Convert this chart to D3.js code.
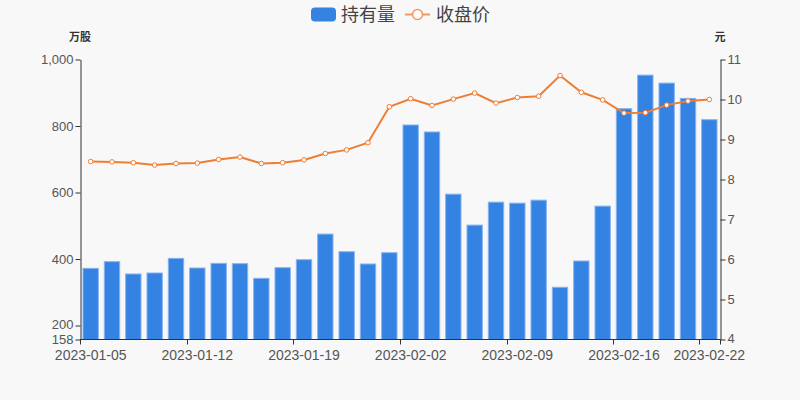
<!DOCTYPE html>
<html>
<head>
<meta charset="utf-8">
<script src="https://cdn.jsdelivr.net/npm/d3@7/dist/d3.min.js"></script>
<style>
  body { margin: 0; background: #f8f8f8; }
  svg { display: block; font-family: "Liberation Sans", "Noto Sans CJK SC", sans-serif; }
</style>
</head>
<body>
<script>
// data
const dates = ['2023-01-05', '2023-01-06', '2023-01-09', '2023-01-10', '2023-01-11', '2023-01-12',
    '2023-01-13', '2023-01-16', '2023-01-17', '2023-01-18', '2023-01-19', '2023-01-20',
    '2023-01-30', '2023-01-31', '2023-02-01', '2023-02-02', '2023-02-03', '2023-02-06',
    '2023-02-07', '2023-02-08', '2023-02-09', '2023-02-10', '2023-02-13', '2023-02-14',
    '2023-02-15', '2023-02-16', '2023-02-17', '2023-02-20', '2023-02-21', '2023-02-22'];
const holdings = [372, 392, 355, 358, 402, 373, 387, 386, 342, 374, 398, 475, 422, 385, 419,
    803, 782, 595, 502, 571, 568, 577, 315, 394, 559, 852, 953, 929, 883, 819];
const closePrice = [8.45, 8.44, 8.42, 8.36, 8.40, 8.41, 8.50, 8.56, 8.40, 8.42, 8.49, 8.65, 8.74, 8.92, 9.82,
    10.02, 9.85, 10.01, 10.16, 9.91, 10.05, 10.08, 10.60, 10.18, 9.99, 9.66, 9.67, 9.86, 9.96, 10.00];
const leftTicks = [158, 200, 400, 600, 800, 1000];
const rightTicks = [4, 5, 6, 7, 8, 9, 10, 11];
const labelIdx = [0, 5, 10, 15, 20, 25, 29];

const width = 800, height = 400;
const margin = { top: 59.5, right: 80, bottom: 60.5, left: 80 };

const svg = d3.select('body').append('svg')
    .attr('width', width)
    .attr('height', height);

svg.append('rect').attr('width', width).attr('height', height).attr('fill', '#f8f8f8');

const x = d3.scaleBand()
    .domain(dates)
    .range([margin.left, width - margin.right])
    .paddingInner(0.28)
    .paddingOuter(0.14);

const yLeft = d3.scaleLinear()
    .domain([158, 1000])
    .range([height - margin.bottom, margin.top]);

const yRight = d3.scaleLinear()
    .domain([4, 11])
    .range([height - margin.bottom, margin.top]);

// bars
svg.selectAll('.bar')
    .data(holdings)
    .enter()
    .append('rect')
    .attr('class', 'bar')
    .attr('x', (d, i) => x(dates[i]))
    .attr('y', d => yLeft(d))
    .attr('width', x.bandwidth())
    .attr('height', d => yLeft(158) - yLeft(d))
    .attr('fill', '#3482e2')
    .attr('stroke', '#86b3ef')
    .attr('stroke-width', 1);

// line
const center = i => x(dates[i]) + x.bandwidth() / 2;
const line = d3.line()
    .x((d, i) => center(i))
    .y(d => yRight(d));

svg.append('path')
    .datum(closePrice)
    .attr('d', line)
    .attr('fill', 'none')
    .attr('stroke', '#ef7d34')
    .attr('stroke-width', 2);

svg.selectAll('.pt')
    .data(closePrice)
    .enter()
    .append('circle')
    .attr('class', 'pt')
    .attr('cx', (d, i) => center(i))
    .attr('cy', d => yRight(d))
    .attr('r', 2.3)
    .attr('fill', '#fff')
    .attr('stroke', '#ef7d34')
    .attr('stroke-width', 1);

// left axis
const axisLeft = d3.axisLeft(yLeft)
    .tickValues(leftTicks)
    .tickFormat(d3.format(','))
    .tickSize(5)
    .tickSizeOuter(0);

const gl = svg.append('g')
    .attr('transform', `translate(${margin.left + 0.5},0)`)
    .call(axisLeft);

// right axis
const axisRight = d3.axisRight(yRight)
    .tickValues(rightTicks)
    .tickFormat(d3.format('d'))
    .tickSize(5)
    .tickSizeOuter(0);

const gr = svg.append('g')
    .attr('transform', `translate(${width - margin.right + 0.5},0)`)
    .call(axisRight);

// bottom axis
const gb = svg.append('g')
    .attr('transform', `translate(0,${height - margin.bottom})`);

gb.append('line')
    .attr('x1', margin.left)
    .attr('x2', width - margin.right + 0.5)
    .attr('stroke', '#333');

const tickPos = labelIdx.map(i => x(dates[i]) - x.step() * x.paddingInner() / 2).concat([width - margin.right]);
gb.selectAll('.xtick')
    .data(tickPos)
    .enter()
    .append('line')
    .attr('x1', d => Math.round(d) + 0.5)
    .attr('x2', d => Math.round(d) + 0.5)
    .attr('y1', 0)
    .attr('y2', 5)
    .attr('stroke', '#333');

gb.selectAll('.xlabel')
    .data(labelIdx)
    .enter()
    .append('text')
    .attr('x', i => center(i))
    .attr('y', 20)
    .attr('text-anchor', 'middle')
    .attr('fill', '#555')
    .attr('font-size', 14)
    .text(i => dates[i]);

[gl, gr].forEach(g => {
    g.select('.domain').attr('stroke', '#333');
    g.selectAll('.tick line').attr('stroke', '#333');
    g.selectAll('.tick text').attr('fill', '#555').attr('font-size', 13)
        .attr('font-family', '"Liberation Sans", sans-serif');
});
gl.selectAll('.tick text').attr('x', -7);
gr.selectAll('.tick text').attr('x', 7);
// keep the lowest tick labels clear of their neighbours
gl.selectAll('.tick text').filter(d => d === 158).attr('dy', '0.3em');
gl.selectAll('.tick text').filter(d => d === 200).attr('dy', '0.2em');
gr.selectAll('.tick text').filter(d => d === 4).attr('dy', '0.2em');

// axis names
svg.append('text')
    .attr('x', 80)
    .attr('y', 41)
    .attr('text-anchor', 'middle')
    .attr('font-size', 11)
    .attr('font-weight', 'bold')
    .attr('fill', '#333')
    .text('万股');

svg.append('text')
    .attr('x', 720)
    .attr('y', 41)
    .attr('text-anchor', 'middle')
    .attr('font-size', 11)
    .attr('font-weight', 'bold')
    .attr('fill', '#333')
    .text('元');

// legend
const legend = svg.append('g').attr('id', 'legend');
legend.append('rect')
    .attr('x', 311)
    .attr('y', 7.5)
    .attr('width', 25)
    .attr('height', 14)
    .attr('rx', 4)
    .attr('fill', '#3482e2');
legend.append('text')
    .attr('x', 341)
    .attr('y', 21)
    .attr('font-size', 18)
    .attr('fill', '#444')
    .text('持有量');
legend.append('line')
    .attr('x1', 405)
    .attr('x2', 430)
    .attr('y1', 14.5)
    .attr('y2', 14.5)
    .attr('stroke', '#f19a5f')
    .attr('stroke-width', 2);
legend.append('circle')
    .attr('cx', 417.5)
    .attr('cy', 14.5)
    .attr('r', 5)
    .attr('fill', '#fff')
    .attr('stroke', '#f19a5f')
    .attr('stroke-width', 1.5);
legend.append('text')
    .attr('x', 436)
    .attr('y', 21)
    .attr('font-size', 18)
    .attr('fill', '#444')
    .text('收盘价');
</script>
</body>
</html>
